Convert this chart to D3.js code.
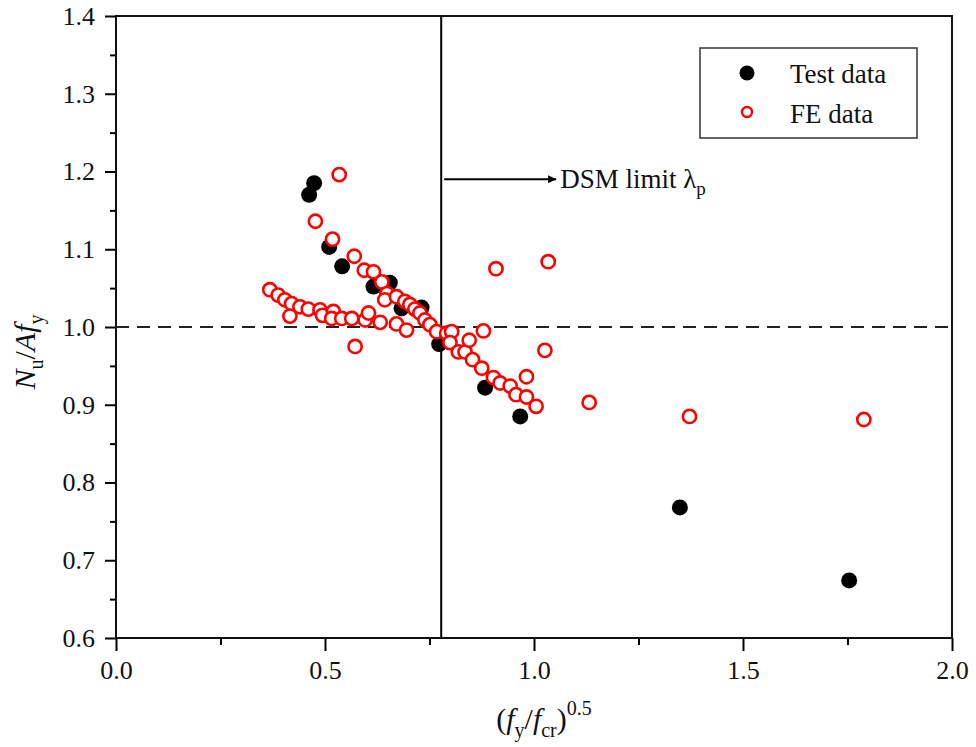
<!DOCTYPE html>
<html>
<head>
<meta charset="utf-8">
<script src="https://cdn.jsdelivr.net/npm/d3@7"></script>
<style>
  body { margin: 0; background: #fff; }
  svg { display: block; font-family: 'Liberation Serif', 'Times New Roman', serif; }
</style>
</head>
<body>
<div id="chart"></div>
<script>
/* Normalised strength vs slenderness — Test vs FE scatter */

// ---- Data ----
const testX = [0.474, 0.462, 0.510, 0.541, 0.616, 0.655, 0.683, 0.731, 0.773, 0.883, 0.967, 1.349, 1.754];
const testY = [1.185, 1.170, 1.103, 1.078, 1.052, 1.057, 1.024, 1.025, 0.978, 0.922, 0.885, 0.768, 0.674];

const feX = [
  0.534, 0.477, 0.518, 0.570, 0.594, 0.616, 0.636, 0.648, 0.643, 0.671,
  0.691, 0.703, 0.715, 0.727, 0.739, 0.751, 0.767, 0.791, 0.803, 0.799,
  0.819, 0.835, 0.845, 0.879, 0.853, 0.875, 0.903, 0.919, 0.943, 0.957,
  0.982, 0.982, 1.005, 1.026, 1.132, 1.372, 1.789, 0.909, 1.034,
  0.368, 0.388, 0.404, 0.420, 0.416, 0.440, 0.460, 0.488, 0.494, 0.520,
  0.516, 0.540, 0.564, 0.596, 0.604, 0.632, 0.671, 0.695, 0.572
];
const feY = [
  1.196, 1.136, 1.113, 1.091, 1.073, 1.071, 1.058, 1.043, 1.035, 1.039,
  1.033, 1.029, 1.023, 1.018, 1.009, 1.003, 0.994, 0.992, 0.994, 0.980,
  0.968, 0.968, 0.983, 0.995, 0.958, 0.947, 0.935, 0.928, 0.924, 0.913,
  0.936, 0.910, 0.898, 0.970, 0.903, 0.885, 0.881, 1.075, 1.084,
  1.048, 1.041, 1.035, 1.030, 1.014, 1.026, 1.023, 1.022, 1.015, 1.020,
  1.011, 1.011, 1.011, 1.009, 1.018, 1.006, 1.004, 0.996, 0.975
];

const xTicks = [0, 0.5, 1.0, 1.5, 2.0];
const yTicks = [0.6, 0.7, 0.8, 0.9, 1.0, 1.1, 1.2, 1.3, 1.4];
const xMinor = [0.25, 0.75, 1.25, 1.75];
const yMinor = [0.65, 0.75, 0.85, 0.95, 1.05, 1.15, 1.25, 1.35];

const refY = 1.0;          // dashed unity line
const dsmLimit = 0.778;    // DSM limit lambda_p
const arrowY = 1.19;
const arrowEnd = 1.053;

// ---- Layout ----
const width = 976, height = 747;
const margin = { top: 16, right: 24, bottom: 109, left: 116 };
const innerWidth = width - margin.left - margin.right;
const innerHeight = height - margin.top - margin.bottom;

const svg = d3.select('#chart').append('svg')
  .attr('width', width).attr('height', height);

const defs = svg.append('defs');
defs.append('marker')
  .attr('id', 'arrowHead')
  .attr('viewBox', '0 0 10 10')
  .attr('refX', 10).attr('refY', 5)
  .attr('markerWidth', 10).attr('markerHeight', 8)
  .attr('markerUnits', 'userSpaceOnUse')
  .attr('orient', 'auto')
  .append('path').attr('d', 'M0,0 L10,5 L0,10 Z').attr('fill', '#000');

const g = svg.append('g').attr('transform', `translate(${margin.left},${margin.top})`);

const x = d3.scaleLinear().domain([0, 2]).range([0, innerWidth]);
const y = d3.scaleLinear().domain([0.6, 1.4]).range([innerHeight, 0]);

// ---- Axes ----
const fmt = d => d.toFixed(1);

g.append('g')
  .attr('transform', `translate(0,${innerHeight})`)
  .call(d3.axisBottom(x).tickValues(xMinor).tickSize(7).tickFormat(''))
  .call(a => a.select('.domain').remove())
  .call(a => a.selectAll('line').attr('stroke-width', 2));

g.append('g')
  .attr('transform', `translate(0,${innerHeight})`)
  .call(d3.axisBottom(x).tickValues(xTicks).tickSize(13).tickPadding(10).tickSizeOuter(0).tickFormat(fmt))
  .call(a => a.select('.domain').remove())
  .call(a => a.selectAll('line').attr('stroke-width', 2))
  .call(a => a.selectAll('text').attr('font-size', '26px').attr('font-family', 'Liberation Serif').attr('fill', '#111'));

g.append('g')
  .call(d3.axisLeft(y).tickValues(yMinor).tickSize(6).tickFormat(''))
  .call(a => a.select('.domain').remove())
  .call(a => a.selectAll('line').attr('stroke-width', 2));

g.append('g')
  .call(d3.axisLeft(y).tickValues(yTicks).tickSize(11).tickPadding(10).tickSizeOuter(0).tickFormat(fmt))
  .call(a => a.select('.domain').remove())
  .call(a => a.selectAll('line').attr('stroke-width', 2))
  .call(a => a.selectAll('text').attr('font-size', '26px').attr('font-family', 'Liberation Serif').attr('fill', '#111'));

// Frame
g.append('rect')
  .attr('x', 0).attr('y', 0)
  .attr('width', innerWidth).attr('height', innerHeight)
  .attr('fill', 'none')
  .attr('stroke', '#111')
  .attr('stroke-width', 2);

// ---- Reference lines ----
g.append('line')
  .attr('x1', x(0)).attr('x2', x(2))
  .attr('y1', y(refY)).attr('y2', y(refY))
  .attr('stroke', '#222')
  .attr('stroke-width', 2)
  .attr('stroke-dasharray', '13,8');

g.append('line')
  .attr('x1', x(dsmLimit)).attr('x2', x(dsmLimit))
  .attr('y1', y(1.4)).attr('y2', y(0.6))
  .attr('stroke', '#000')
  .attr('stroke-width', 2);

g.append('line')
  .attr('x1', x(dsmLimit) + 3).attr('x2', x(arrowEnd))
  .attr('y1', y(arrowY)).attr('y2', y(arrowY))
  .attr('stroke', '#000')
  .attr('stroke-width', 2)
  .attr('marker-end', 'url(#arrowHead)');

const note = g.append('text')
  .attr('x', x(arrowEnd) + 4)
  .attr('y', y(arrowY) + 9)
  .attr('font-size', '27px')
  .attr('fill', '#111');
note.append('tspan').text('DSM limit λ');
note.append('tspan').attr('dy', 7).attr('font-size', '19px').text('p');

// ---- Points ----
g.append('g').selectAll('circle')
  .data(testX.map((v, i) => [v, testY[i]]))
  .join('circle')
  .attr('cx', d => x(d[0]))
  .attr('cy', d => y(d[1]))
  .attr('r', 8)
  .attr('fill', '#000');

g.append('g').selectAll('circle')
  .data(feX.map((v, i) => [v, feY[i]]))
  .join('circle')
  .attr('cx', d => x(d[0]))
  .attr('cy', d => y(d[1]))
  .attr('r', 6.6)
  .attr('fill', '#fff')
  .attr('stroke', '#ff0000')
  .attr('stroke-width', 2.6);

// ---- Axis titles ----
const xTitle = svg.append('text')
  .attr('x', 544).attr('y', 729)
  .attr('text-anchor', 'middle')
  .attr('font-size', '30px')
  .attr('fill', '#111');
xTitle.append('tspan').text('(');
xTitle.append('tspan').attr('font-style', 'italic').text('f');
xTitle.append('tspan').attr('dy', 8).attr('font-size', '20px').text('y');
xTitle.append('tspan').attr('dy', -8).text('/');
xTitle.append('tspan').attr('font-style', 'italic').text('f');
xTitle.append('tspan').attr('dy', 8).attr('font-size', '20px').text('cr');
xTitle.append('tspan').attr('dy', -8).text(')');
xTitle.append('tspan').attr('dy', -14).attr('font-size', '20px').text('0.5');

const yTitle = svg.append('text')
  .attr('transform', 'translate(35,352) rotate(-90)')
  .attr('text-anchor', 'middle')
  .attr('font-size', '30px')
  .attr('fill', '#111');
yTitle.append('tspan').attr('font-style', 'italic').text('N');
yTitle.append('tspan').attr('dy', 8).attr('font-size', '20px').text('u');
yTitle.append('tspan').attr('dy', -8).text('/');
yTitle.append('tspan').attr('font-style', 'italic').text('Af');
yTitle.append('tspan').attr('dy', 8).attr('font-size', '20px').text('y');

// ---- Legend ----
const legend = svg.append('g').attr('transform', 'translate(700,48)');
legend.append('rect')
  .attr('width', 217).attr('height', 90)
  .attr('fill', '#fff')
  .attr('stroke', '#333')
  .attr('stroke-width', 1.5);

legend.append('circle')
  .attr('cx', 47).attr('cy', 25).attr('r', 7.5)
  .attr('fill', '#000');
legend.append('circle')
  .attr('cx', 47).attr('cy', 64).attr('r', 5)
  .attr('fill', '#fff')
  .attr('stroke', '#ff0000')
  .attr('stroke-width', 2.4);

legend.append('text')
  .attr('x', 90).attr('y', 35)
  .attr('font-size', '27px').attr('fill', '#111')
  .text('Test data');
legend.append('text')
  .attr('x', 90).attr('y', 75)
  .attr('font-size', '27px').attr('fill', '#111')
  .text('FE data');
</script>
</body>
</html>
